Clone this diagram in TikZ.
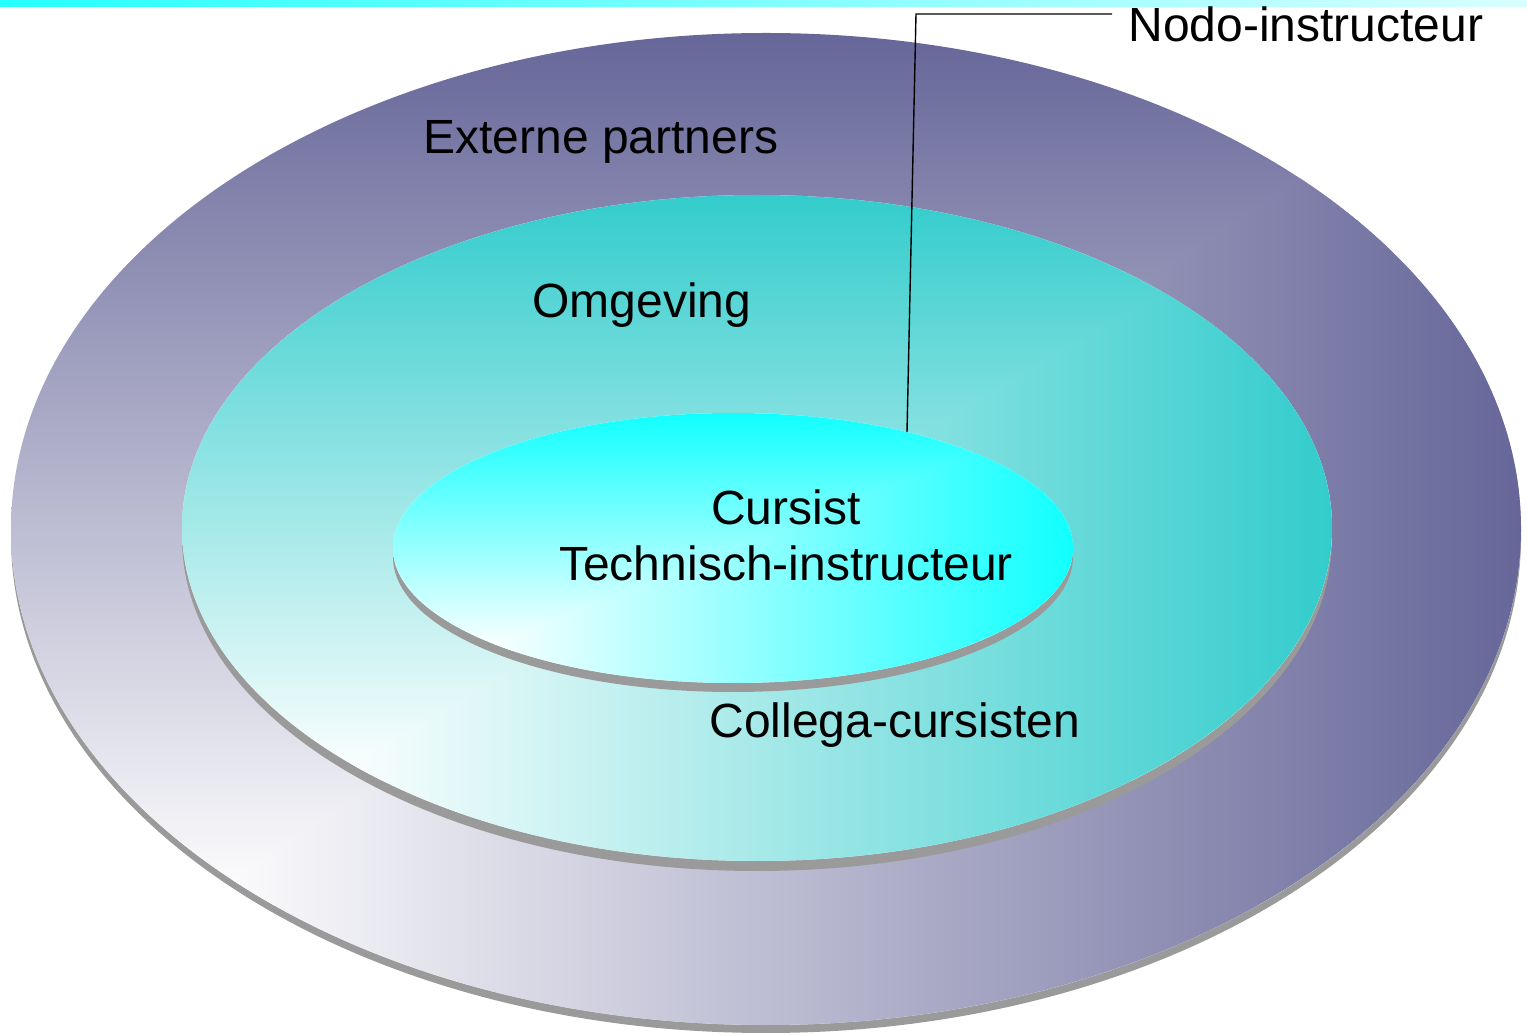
\documentclass[tikz,border=0pt]{standalone}
\usepackage{fontspec}
\setmainfont{Liberation Sans}
\usetikzlibrary{positioning}

\definecolor{ringpurple}{HTML}{666699}
\definecolor{ringteal}{HTML}{33CCCC}
\definecolor{ringcyan}{HTML}{11FFFF}
\definecolor{ringshadow}{HTML}{9A9A9A}

\tikzset{
  RingLabel/.style  = {font=\fontsize{24}{28}\selectfont, inner sep=0pt},
  RingShadow/.style = {fill=ringshadow, draw=none},
  LeaderLine/.style = {draw=black, line width=0.7pt}
}

\begin{document}
\begin{tikzpicture}[x=0.5pt, y=-0.5pt]
\useasboundingbox (0,0) rectangle (1527,1036);

% title bar

\shade[left color=cyan!85, right color=cyan!15] (0,0) rectangle (1527,7);

% outer ring

\fill[RingShadow] (766,537) ellipse [x radius=755, y radius=496];
\begin{scope}
  \clip (766,529) ellipse [x radius=755, y radius=496];
  \fill[white] (11,33) rectangle (1521,1025);
  \shade[top color=ringpurple, bottom color=white] (11,33) rectangle (1521,906);
  \shade[left color=white, right color=ringpurple] (192,906) -- (1521,33) -- (1521,1025) -- (192,1025) -- cycle;
\end{scope}

% middle ring

\fill[RingShadow] (757,538) ellipse [x radius=575, y radius=333];
\begin{scope}
  \clip (757,528) ellipse [x radius=575, y radius=333];
  \fill[white] (182,195) rectangle (1332,861);
  \shade[top color=ringteal, bottom color=white] (182,195) rectangle (1332,781);
  \shade[left color=white, right color=ringteal] (320,781) -- (1332,195) -- (1332,861) -- (320,861) -- cycle;
\end{scope}

% inner ring

\fill[RingShadow] (733,557) ellipse [x radius=340, y radius=135];
\begin{scope}
  \clip (733,548) ellipse [x radius=340, y radius=135];
  \fill[white] (393,413) rectangle (1073,683);
  \shade[top color=ringcyan, bottom color=white] (393,413) rectangle (1073,651);
  \shade[left color=white, right color=ringcyan] (475,651) -- (1073,413) -- (1073,683) -- (475,683) -- cycle;
\end{scope}

% labels

\node[RingLabel] (externe)  at (601,142) {Externe partners};
\node[RingLabel] (omgeving) at (642,305) {Omgeving};
\node[RingLabel, align=center] (cursist) at (786,535) {Cursist\\Technisch-instructeur};
\node[RingLabel] (collega)  at (895,725) {Collega-cursisten};
\node[RingLabel, inner xsep=8pt, anchor=west] (nodo) at (1112,24) {Nodo-instructeur};

% leader

\coordinate (nodoknee) at (916,14);
\coordinate (nodotip)  at (907,432);
\draw[LeaderLine] (nodo.west |- nodoknee) -- (nodoknee) -- (nodotip);

\end{tikzpicture}
\end{document}
